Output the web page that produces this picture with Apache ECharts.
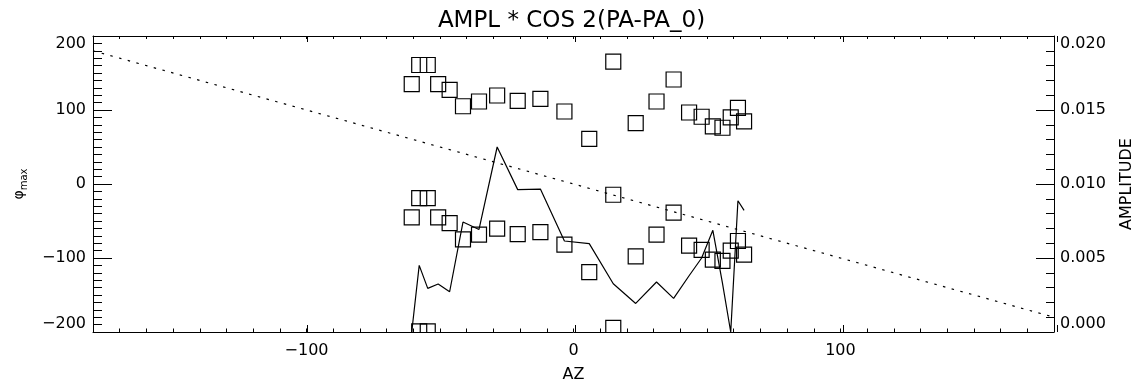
<!DOCTYPE html>
<html>
<head>
<meta charset="utf-8">
<title>AMPL * COS 2(PA-PA_0)</title>
<script src="https://cdn.jsdelivr.net/npm/echarts@6/dist/echarts.min.js"></script>
<style>
  html, body { margin: 0; padding: 0; background: #fff; }
  #chart { width: 1143px; height: 390px; }
</style>
</head>
<body>
<div id="chart"></div>
<script>
// azimuth of each point (deg)
const azimuth = [-60.6, -57.8, -54.6, -50.7, -46.4, -41.4, -35.4, -28.6, -20.9, -12.4, -3.4,
  5.9, 14.9, 23.3, 31.1, 37.5, 43.3, 48.0, 52.2, 55.8, 58.9, 61.6, 63.9];
// phase of the cos 2 fit (deg), plotted again at -180 and -360
const phiMax = [134.9, 160.8, 160.8, 134.9, 127.2, 105.1, 111.5, 119.6, 112.3, 114.9, 98.0,
  61.0, 165.5, 82.2, 111.5, 141.2, 96.6, 90.9, 77.8, 76.0, 89.9, 103.0, 84.6];
// fit amplitude (right axis)
const amplitude = [0.0000, 0.0045, 0.00295, 0.00324, 0.00272, 0.00743, 0.00693, 0.0125, 0.00962,
  0.00966, 0.00615, 0.00597, 0.00326, 0.00193, 0.00338, 0.00227, 0.0038, 0.0050, 0.00687,
  0.0033, 0.0000, 0.00887, 0.00822];
// dotted reference line
const refAz = [-180, 180];
const refPhi = [180, -180];
// axis ranges
const azRange = [-180, 180];
const phiRange = [-200, 200];
const ampRange = [0, 0.02];
const phaseShifts = [0, -180, -360];

const FONT = 'DejaVu Sans';
const minus = v => (v < 0 ? '\u2212' + Math.abs(v) : String(v));

const phaseData = [];
phaseShifts.forEach(s => {
  phiMax.forEach((p, i) => phaseData.push([azimuth[i], p + s]));
});

const grid = { left: 93, right: 86, top: 36, bottom: 58 };
const black = { color: '#000', width: 1 };

function xAxisBase(gridIndex, position) {
  return {
    type: 'value', gridIndex, position,
    min: azRange[0], max: azRange[1],
    axisLine: { onZero: false, lineStyle: black },
    splitLine: { show: false },
    axisLabel: { show: false }
  };
}

const chart = echarts.init(document.getElementById('chart'), null, { renderer: 'canvas' });
chart.setOption({
  animation: false,
  backgroundColor: '#fff',
  title: {
    text: 'AMPL * COS 2(PA-PA_0)',
    left: 'center',
    top: 5,
    textStyle: { fontFamily: FONT, fontSize: 23, fontWeight: 'normal', color: '#000' }
  },
  grid: [grid, grid],
  xAxis: [
    // minor ticks every 10 plus labels
    Object.assign(xAxisBase(0, 'bottom'), {
      interval: 10,
      axisTick: { inside: true, length: 3.5, lineStyle: black },
      axisLabel: {
        show: true, margin: 11, color: '#000', fontFamily: FONT, fontSize: 16,
        formatter: v => (v % 100 === 0 ? minus(v) : '')
      },
      name: 'AZ', nameLocation: 'middle', nameGap: 35,
      nameTextStyle: { fontFamily: FONT, fontSize: 16, color: '#000' }
    }),
    Object.assign(xAxisBase(0, 'top'), {
      interval: 10,
      axisTick: { inside: true, length: 3, lineStyle: black }
    }),
    // major ticks (auto interval = 100)
    Object.assign(xAxisBase(1, 'bottom'), {
      splitNumber: 4,
      axisLine: { show: false, onZero: false },
      axisTick: { inside: true, length: 7, lineStyle: black }
    }),
    Object.assign(xAxisBase(1, 'top'), {
      splitNumber: 4,
      axisLine: { show: false, onZero: false },
      axisTick: { inside: true, length: 6, lineStyle: black }
    })
  ],
  yAxis: [
    {
      type: 'value', gridIndex: 0, position: 'left',
      min: phiRange[0], max: phiRange[1], interval: 100,
      axisLine: { onZero: false, lineStyle: black },
      axisTick: { inside: true, length: 19, lineStyle: black },
      minorTick: { show: true, splitNumber: 10, length: 9, lineStyle: black },
      splitLine: { show: false },
      axisLabel: {
        margin: 7, color: '#000', fontFamily: FONT, fontSize: 16, formatter: minus,
        verticalAlignMaxLabel: 'top', verticalAlignMinLabel: 'bottom'
      },
      name: '{phi|\u03c6}{sub|max}', nameLocation: 'middle', nameGap: 64, nameRotate: 90,
      nameTextStyle: {
        color: '#000', fontFamily: FONT,
        rich: {
          phi: { fontFamily: FONT, fontSize: 14, lineHeight: 20, verticalAlign: 'middle', color: '#000' },
          sub: { fontFamily: FONT, fontSize: 10, lineHeight: 10, verticalAlign: 'bottom', color: '#000' }
        }
      }
    },
    {
      type: 'value', gridIndex: 0, position: 'right',
      min: ampRange[0], max: ampRange[1], interval: 0.005,
      axisLine: { onZero: false, lineStyle: black },
      axisTick: { inside: true, length: 18, lineStyle: black },
      minorTick: { show: true, splitNumber: 5, length: 8, lineStyle: black },
      splitLine: { show: false },
      axisLabel: {
        margin: 6, color: '#000', fontFamily: FONT, fontSize: 16,
        formatter: v => v.toFixed(3),
        verticalAlignMaxLabel: 'top', verticalAlignMinLabel: 'bottom'
      },
      name: 'AMPLITUDE', nameLocation: 'middle', nameGap: 65, nameRotate: 90,
      nameTextStyle: { fontFamily: FONT, fontSize: 16, color: '#000' }
    },
    { type: 'value', gridIndex: 1, show: false, min: 0, max: 1, axisLine: { onZero: false } }
  ],
  series: [
    {
      name: 'phi_max',
      type: 'custom',
      xAxisIndex: 0, yAxisIndex: 0,
      clip: true,
      encode: { x: 0, y: 1 },
      data: phaseData,
      renderItem: (params, api) => {
        const p = api.coord([api.value(0), api.value(1)]);
        return {
          type: 'rect',
          shape: { x: p[0] - 7.5, y: p[1] - 7.5, width: 15, height: 15 },
          style: { fill: 'none', stroke: '#000', lineWidth: 1.2 }
        };
      }
    },
    {
      name: 'amplitude',
      type: 'line',
      xAxisIndex: 0, yAxisIndex: 1,
      symbol: 'none',
      clip: true,
      lineStyle: { color: '#000', width: 1.2 },
      data: azimuth.map((a, i) => [a, amplitude[i]])
    },
    {
      name: 'reference',
      type: 'line',
      xAxisIndex: 0, yAxisIndex: 0,
      symbol: 'none',
      lineStyle: { color: '#000', width: 1.2, type: [2.5, 6.5] },
      data: refAz.map((a, i) => [a, refPhi[i]])
    }
  ]
});
</script>
</body>
</html>
